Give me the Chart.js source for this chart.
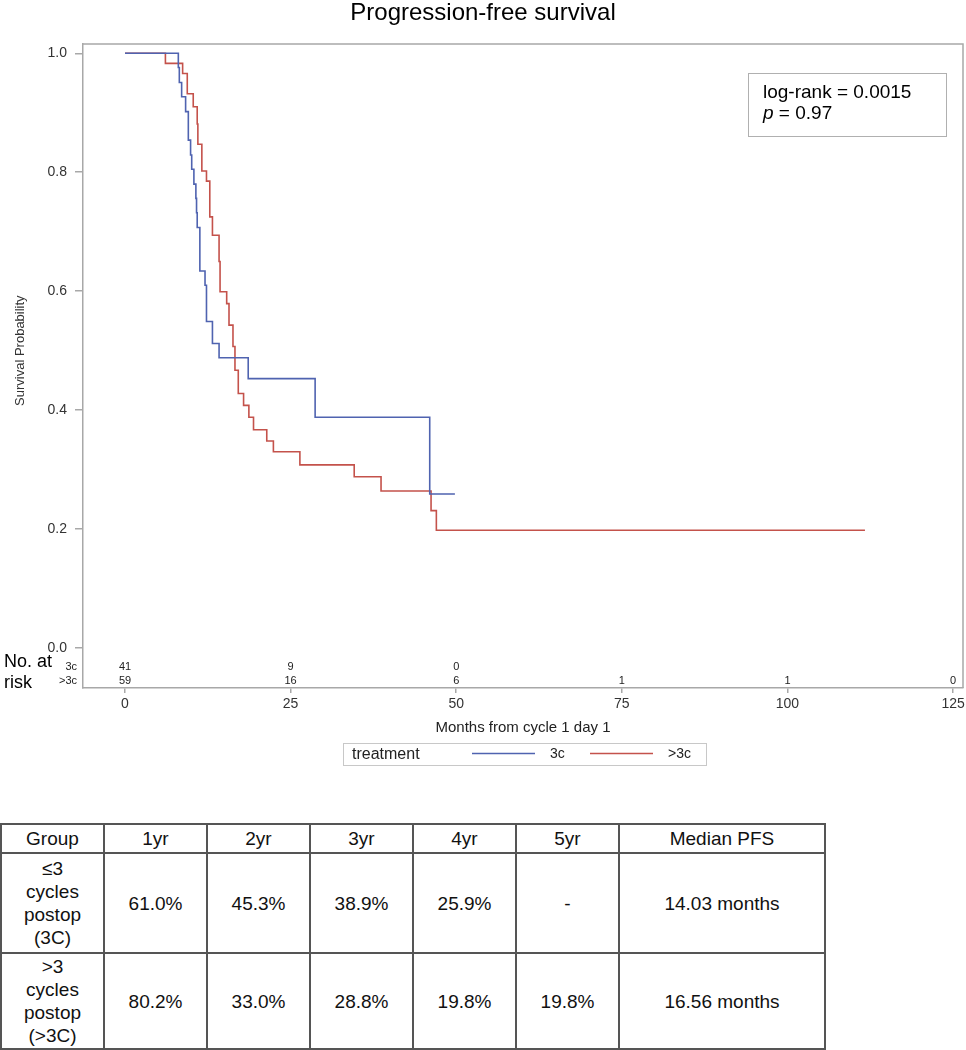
<!DOCTYPE html>
<html><head><meta charset="utf-8">
<script src="https://cdn.jsdelivr.net/npm/chart.js@4.4.1/dist/chart.umd.min.js"></script>
<style>
body{margin:0;background:#fff;width:966px;height:1050px;position:relative;overflow:hidden;font-family:"Liberation Sans",Arial,sans-serif;}
#wrap{position:absolute;left:0;top:0;width:966px;height:790px;}
#tbl{position:absolute;left:0;top:823px;border-collapse:collapse;font-size:19px;color:#111;table-layout:fixed;}
#tbl td{border:2px solid #555;text-align:center;padding:0;line-height:23px;}
</style></head><body>
<div id="wrap"><canvas id="c" width="966" height="790"></canvas></div>
<table id="tbl"></table>
<script>
// ---- data ----
const chartTitle = 'Progression-free survival';
const xTitle = 'Months from cycle 1 day 1';
const yTitle = 'Survival Probability';
const xTicks = [0, 25, 50, 75, 100, 125];
const yTicks = [0, 0.2, 0.4, 0.6, 0.8, 1.0];
const seriesNames = ['3c', '>3c'];
const legendTitle = 'treatment';

// 3c (blue) Kaplan-Meier steps: time (months), survival after the step
const time3c = [0, 8.05, 8.2, 8.55, 9.15, 9.56, 9.9, 10.07, 10.4, 10.7, 10.8, 10.9, 11.3, 12.08, 12.3, 13.2, 14.2, 18.6, 28.7, 46.0, 49.8];
const surv3c = [1.0, 0.976, 0.951, 0.927, 0.902, 0.854, 0.829, 0.805, 0.780, 0.756, 0.732, 0.707, 0.634, 0.610, 0.549, 0.512, 0.488, 0.453, 0.388, 0.259, 0.259];

// >3c (red)
const timeGt3c = [0, 6.1, 8.7, 9.4, 10.3, 10.9, 11.0, 11.6, 12.3, 12.8, 13.2, 14.2, 14.35, 15.35, 15.7, 16.3, 16.6, 17.1, 17.9, 18.7, 19.4, 21.4, 22.4, 26.4, 34.6, 38.65, 46.2, 47.0, 111.7];
const survGt3c = [1.0, 0.983, 0.966, 0.932, 0.910, 0.881, 0.847, 0.802, 0.785, 0.725, 0.694, 0.650, 0.599, 0.579, 0.543, 0.507, 0.467, 0.428, 0.408, 0.388, 0.367, 0.348, 0.330, 0.308, 0.288, 0.264, 0.231, 0.198, 0.198];

// number at risk
const riskTimes = [0, 25, 50, 75, 100, 125];
const risk3c = [41, 9, 0, null, null, null];
const riskGt3c = [59, 16, 6, 1, 1, 0];

const statLine1 = 'log-rank = 0.0015';
const statP = 'p';
const statLine2 = ' = 0.97';

// summary table
const tableHeader = ['Group', '1yr', '2yr', '3yr', '4yr', '5yr', 'Median PFS'];
const groupLabels = [['≤3', 'cycles', 'postop', '(3C)'], ['>3', 'cycles', 'postop', '(>3C)']];
const rateRows = [
  ['61.0%', '45.3%', '38.9%', '25.9%', '-', '14.03 months'],
  ['80.2%', '33.0%', '28.8%', '19.8%', '19.8%', '16.56 months']
];

// ---- build table ----
(function(){
  const t = document.getElementById('tbl');
  const widths = [103,103,103,103,103,103,206];
  const cg = document.createElement('colgroup');
  widths.forEach(w=>{const c=document.createElement('col');c.style.width=w+'px';cg.appendChild(c);});
  t.appendChild(cg);
  const hr = document.createElement('tr'); hr.style.height='29px';
  tableHeader.forEach(h=>{const td=document.createElement('td');td.textContent=h;hr.appendChild(td);});
  t.appendChild(hr);
  const hts = ['100px','96px'];
  rateRows.forEach((row,i)=>{
    const tr=document.createElement('tr'); tr.style.height=hts[i];
    const g=document.createElement('td'); g.innerHTML=groupLabels[i].map(s=>s.replace('<','&lt;').replace('>','&gt;')).join('<br>');
    tr.appendChild(g);
    row.forEach(v=>{const td=document.createElement('td');td.textContent=v;tr.appendChild(td);});
    t.appendChild(tr);
  });
})();

// ---- chart ----
const FONT = '"Liberation Sans", Arial, sans-serif';
const BLUE = '#4f63b0';
const RED = '#c4524b';
const AXIS = '#a8a8a8';

const overlay = {
  id: 'overlay',
  afterDraw(chart) {
    const {ctx, chartArea: a, scales: {x, y}} = chart;
    ctx.save();
    // frame
    ctx.strokeStyle = AXIS; ctx.lineWidth = 1.5;
    ctx.beginPath(); ctx.moveTo(a.left, a.top); ctx.lineTo(a.right, a.top); ctx.lineTo(a.right, a.bottom); ctx.stroke();
    // title
    ctx.fillStyle = '#000'; ctx.textBaseline = 'middle'; ctx.textAlign = 'center';
    ctx.font = '24px ' + FONT;
    ctx.fillText(chartTitle, 483, 13);
    // x title
    ctx.fillStyle = '#222'; ctx.font = '15px ' + FONT;
    ctx.fillText(xTitle, (a.left + a.right) / 2, 728);
    // y title
    ctx.save();
    ctx.translate(20, (y.getPixelForValue(0) + y.getPixelForValue(1)) / 2);
    ctx.rotate(-Math.PI / 2);
    ctx.font = '13px ' + FONT; ctx.fillStyle = '#333';
    ctx.fillText(yTitle, 0, 0);
    ctx.restore();
    // number at risk
    ctx.fillStyle = '#000'; ctx.textAlign = 'left'; ctx.font = '18px ' + FONT;
    ctx.fillText('No. at', 4, 662);
    ctx.fillText('risk', 4, 683);
    ctx.textAlign = 'right'; ctx.font = '11px ' + FONT; ctx.fillStyle = '#222';
    ctx.fillText(seriesNames[0], 77, 667);
    ctx.fillText(seriesNames[1], 77, 681);
    ctx.textAlign = 'center';
    riskTimes.forEach((t, i) => {
      const px = x.getPixelForValue(t);
      if (risk3c[i] !== null) ctx.fillText(String(risk3c[i]), px, 667);
      if (riskGt3c[i] !== null) ctx.fillText(String(riskGt3c[i]), px, 681);
    });
    // legend
    ctx.strokeStyle = '#c8c8c8'; ctx.lineWidth = 1;
    ctx.strokeRect(343.5, 743.5, 363, 22);
    ctx.fillStyle = '#222'; ctx.textAlign = 'left'; ctx.font = '16px ' + FONT;
    ctx.fillText(legendTitle, 352, 754.5);
    ctx.lineWidth = 1.5;
    ctx.strokeStyle = BLUE; ctx.beginPath(); ctx.moveTo(472, 753.5); ctx.lineTo(535, 753.5); ctx.stroke();
    ctx.strokeStyle = RED; ctx.beginPath(); ctx.moveTo(590, 753.5); ctx.lineTo(653, 753.5); ctx.stroke();
    ctx.font = '14px ' + FONT;
    ctx.fillText(seriesNames[0], 550, 754.5);
    ctx.fillText(seriesNames[1], 668, 754.5);
    // stat box
    ctx.strokeStyle = '#b0b0b0'; ctx.lineWidth = 1;
    ctx.strokeRect(748.5, 73.5, 198, 63);
    ctx.fillStyle = '#000'; ctx.font = '19px ' + FONT;
    ctx.fillText(statLine1, 763, 93);
    ctx.font = 'italic 19px ' + FONT;
    ctx.fillText(statP, 763, 114);
    const pw = ctx.measureText(statP).width;
    ctx.font = '19px ' + FONT;
    ctx.fillText(statLine2, 763 + pw, 114);
    ctx.restore();
  }
};

const toPts = (ts, ss) => ts.map((t, i) => ({x: t, y: ss[i]}));

new Chart(document.getElementById('c'), {
  type: 'line',
  data: {
    datasets: [
      {label: seriesNames[0], data: toPts(time3c, surv3c), borderColor: BLUE, borderWidth: 1.6, stepped: 'before', pointRadius: 0, fill: false},
      {label: seriesNames[1], data: toPts(timeGt3c, survGt3c), borderColor: RED, borderWidth: 1.6, stepped: 'before', pointRadius: 0, fill: false}
    ]
  },
  options: {
    responsive: false, animation: false, devicePixelRatio: 1,
    layout: {padding: {left: 0, right: 3, top: 44, bottom: 62}},
    plugins: {legend: {display: false}, tooltip: {enabled: false}, title: {display: false}},
    scales: {
      x: {
        type: 'linear', min: -6.34, max: 126.5,
        afterBuildTicks: s => { s.ticks = xTicks.map(v => ({value: v})); },
        afterFit: s => { s.height = 40; s.paddingLeft = 0; s.paddingRight = 0; },
        grid: {display: true, drawOnChartArea: false, drawTicks: true, tickLength: 5, color: AXIS, lineWidth: 1.5},
        border: {display: true, color: AXIS, width: 1.5},
        ticks: {font: {size: 14, family: FONT}, color: '#333', padding: 3, maxRotation: 0, autoSkip: false}
      },
      y: {
        type: 'linear', min: -0.06726, max: 1.01564,
        afterBuildTicks: s => { s.ticks = yTicks.map(v => ({value: v})); },
        afterFit: s => { s.width = 83; s.paddingTop = 0; s.paddingBottom = 0; },
        grid: {display: true, drawOnChartArea: false, drawTicks: true, tickLength: 8, color: AXIS, lineWidth: 1.5},
        border: {display: true, color: AXIS, width: 1.5},
        ticks: {font: {size: 14, family: FONT}, color: '#333', padding: 8, autoSkip: false, callback: v => Number(v).toFixed(1)}
      }
    }
  },
  plugins: [overlay]
});
</script>
</body></html>
